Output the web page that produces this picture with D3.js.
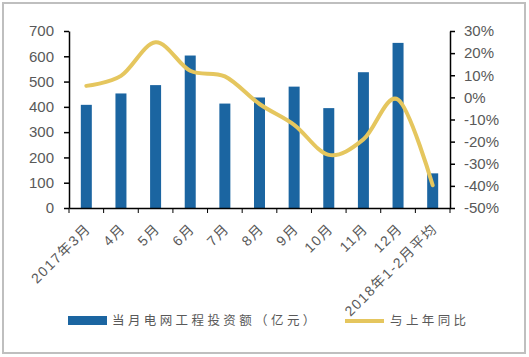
<!DOCTYPE html>
<html>
<head>
<meta charset="utf-8">
<script src="https://cdn.jsdelivr.net/npm/d3@7"></script>
<style>
	body { margin: 0; background: #fff; }
	text { font-family: "Liberation Sans", Arial, "Noto Sans CJK SC", sans-serif; fill: #595959; }
	.cn { font-family: "Noto Sans CJK SC", sans-serif; }
</style>
</head>
<body>
<svg id="chart" width="529" height="357"></svg>
<script>
const categories = ['2017年3月', '4月', '5月', '6月', '7月', '8月', '9月', '10月', '11月', '12月', '2018年1-2月平均'];
const investment = [408, 453, 486, 603, 413, 437, 480, 395, 537, 653, 137];
const yoy = [5.2, 9.7, 24.9, 12, 9.5, -3, -12.4, -26, -19, -1, -39.7];
const leftTicks = [0, 100, 200, 300, 400, 500, 600, 700];
const rightTicks = [30, 20, 10, 0, -10, -20, -30, -40, -50];
const legendNames = ['当月电网工程投资额（亿元）', '与上年同比'];

const barColor = '#1B65A1';
const lineColor = '#E5C65E';

const svg = d3.select('#chart');

// outer frame
svg.append('rect')
	.attr('x', 3).attr('y', 3)
	.attr('width', 522).attr('height', 350)
	.attr('fill', 'none')
	.attr('stroke', '#bfbfbf')
	.attr('stroke-width', 2);

const plotLeft = 69, plotRight = 450, plotTop = 31, plotBottom = 208;

const x = d3.scaleBand()
	.domain(categories)
	.range([plotLeft, plotRight]);

const yLeft = d3.scaleLinear().domain([0, 700]).range([plotBottom, plotTop]);
const yRight = d3.scaleLinear().domain([-50, 30]).range([plotBottom, plotTop]);

// bars
svg.append('g')
	.selectAll('rect')
	.data(investment)
	.enter()
	.append('rect')
	.attr('x', (d, i) => x(categories[i]) + x.bandwidth() / 2 - 5.5)
	.attr('y', d => yLeft(d))
	.attr('width', 11)
	.attr('height', d => plotBottom - yLeft(d))
	.attr('fill', barColor);

// smoothed line
const line = d3.line()
	.x((d, i) => x(categories[i]) + x.bandwidth() / 2)
	.y(d => yRight(d))
	.curve(d3.curveCardinal.tension(0));

svg.append('path')
	.datum(yoy)
	.attr('d', line)
	.attr('fill', 'none')
	.attr('stroke', lineColor)
	.attr('stroke-width', 4)
	.attr('stroke-linecap', 'round');

// left axis
const axL = svg.append('g')
	.attr('transform', `translate(${plotLeft},0)`)
	.call(d3.axisLeft(yLeft).tickValues(leftTicks).tickSize(5).tickSizeOuter(0));
axL.selectAll('text').attr('font-size', 15).attr('dx', '-7');

// right axis
const axR = svg.append('g')
	.attr('transform', `translate(${plotRight},0)`)
	.call(d3.axisRight(yRight).tickValues(rightTicks).tickSize(5).tickSizeOuter(0).tickFormat(d => d + '%'));
axR.selectAll('text').attr('font-size', 15).attr('dx', '6');

// bottom axis
const axB = svg.append('g')
	.attr('transform', `translate(0,${plotBottom})`)
	.call(d3.axisBottom(x).tickSize(0).tickSizeOuter(0));
axB.selectAll('text')
	.attr('font-size', 14)
	.attr('letter-spacing', 1.5)
	.attr('text-anchor', 'end')
	.attr('x', 0)
	.attr('y', 0)
	.attr('dy', '0.35em')
	.attr('transform', 'translate(2,18) rotate(-45)');

// boundary ticks on x axis
svg.append('g')
	.selectAll('line')
	.data(categories.concat(['end']))
	.enter()
	.append('line')
	.attr('x1', (d, i) => plotLeft + i * x.bandwidth())
	.attr('x2', (d, i) => plotLeft + i * x.bandwidth())
	.attr('y1', plotBottom)
	.attr('y2', plotBottom + 5)
	.attr('stroke', '#000');

svg.selectAll('.domain, .tick line').attr('stroke', '#000').attr('stroke-width', 1.5);

// legend
const legend = svg.append('g');
legend.append('rect')
	.attr('x', 68).attr('y', 316)
	.attr('width', 39).attr('height', 9)
	.attr('fill', barColor);
legend.append('text')
	.attr('class', 'cn')
	.attr('x', 112).attr('y', 321)
	.attr('dy', '0.35em')
	.attr('font-size', 12.5)
	.attr('letter-spacing', 3.4)
	.text(legendNames[0]);
legend.append('line')
	.attr('x1', 345).attr('x2', 384)
	.attr('y1', 321).attr('y2', 321)
	.attr('stroke', lineColor)
	.attr('stroke-width', 4);
legend.append('text')
	.attr('class', 'cn')
	.attr('x', 390).attr('y', 321)
	.attr('dy', '0.35em')
	.attr('font-size', 12.5)
	.attr('letter-spacing', 3.4)
	.text(legendNames[1]);
</script>
</body>
</html>
